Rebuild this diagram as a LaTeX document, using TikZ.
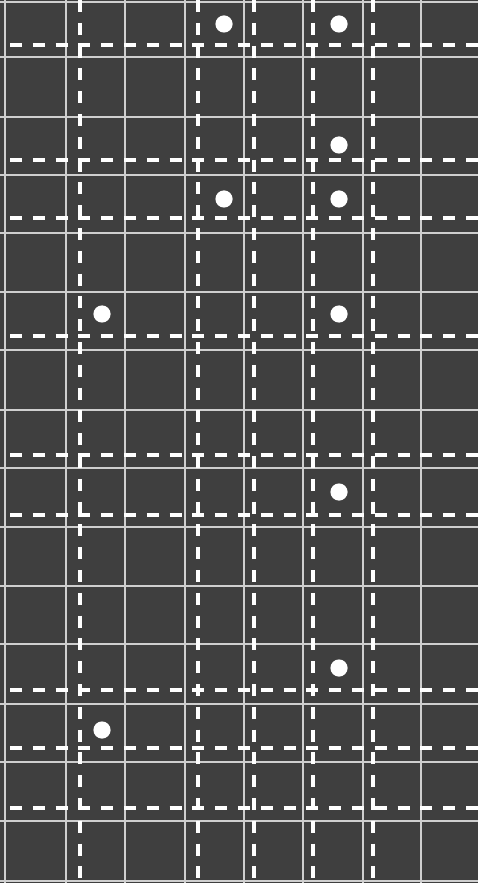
\documentclass[tikz,border=0pt]{standalone}
\usepackage{tikz}
\usetikzlibrary{positioning}
\usepackage{xcolor}
\definecolor{board}{HTML}{3F3F3F}
\definecolor{gridline}{HTML}{CFCFCF}

\begin{document}
\begin{tikzpicture}[
  x=0.25mm, y=-0.25mm,
  cell/.style={draw=gridline, line width=1.2pt},
  guide/.style={draw=white, line width=2.8pt, dash pattern=on 3mm off 2.7mm},
  dot/.style={circle, fill=white, inner sep=0pt, minimum size=4.3mm}
]
  % Board
  \fill[board] (0, 0) rectangle (478, 883);
  \useasboundingbox (0, 0) rectangle (478, 883);

  % Solid grid
  \foreach \x in {5, 66, 125, 185, 244, 303, 363, 421}
    \draw[cell] (\x, 0) -- (\x, 883);
  \foreach \y in {2, 57, 117, 175, 233, 292, 350, 410, 468, 527, 586, 644, 704, 762, 821, 881}
    \draw[cell] (0, \y) -- (478, \y);

  % Dashed guides
  \foreach \x in {80, 198, 254, 313, 373}
    \draw[guide] (\x, 0) -- (\x, 883);
  \foreach \y in {45, 160, 218, 336, 455, 515, 690, 748, 808}
    \draw[guide] (10, \y) -- (478, \y);

  % Dots
  \node[dot] (d1) at (224, 24) {};
  \node[dot] (d2) at (339, 24) {};
  \node[dot] (d3) at (339, 145) {};
  \node[dot] (d4) at (224, 199) {};
  \node[dot] (d5) at (339, 199) {};
  \node[dot] (d6) at (102, 314) {};
  \node[dot] (d7) at (339, 314) {};
  \node[dot] (d8) at (339, 492) {};
  \node[dot] (d9) at (339, 668) {};
  \node[dot] (d10) at (102, 730) {};

\end{tikzpicture}
\end{document}
